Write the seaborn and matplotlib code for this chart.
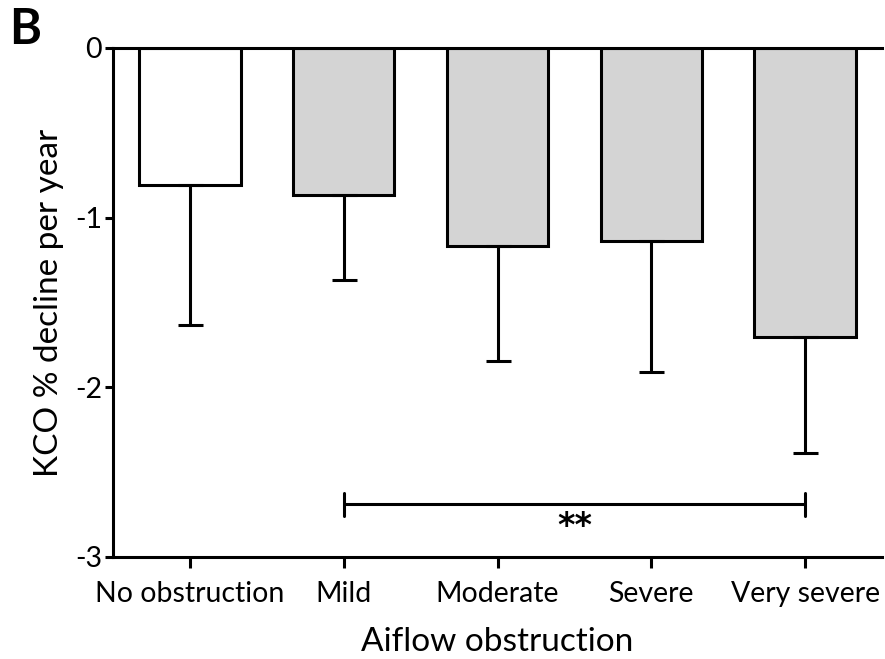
import matplotlib
matplotlib.use("Agg")
import matplotlib.pyplot as plt
import seaborn as sns
import pandas as pd

categories = ["No obstruction", "Mild", "Moderate", "Severe", "Very severe"]
means = [-0.81, -0.865, -1.165, -1.14, -1.706]
lower_ends = [-1.635, -1.365, -1.847, -1.91, -2.39]
bar_colors = ["#ffffff", "#d4d4d4", "#d4d4d4", "#d4d4d4", "#d4d4d4"]
y_ticks = [0, -1, -2, -3]
bracket_y = -2.69
bracket_from, bracket_to = "Mild", "Very severe"
sig_text = "**"

sns.set_theme(style="white")
plt.rcParams["font.family"] = ["Lato", "DejaVu Sans"]
plt.rcParams["text.color"] = "black"

df = pd.DataFrame({"cat": categories, "val": means})

fig = plt.figure(figsize=(8.85, 6.59), dpi=100)
ax = fig.add_axes([0.1277, 0.1548, 0.8689, 0.7724])

sns.barplot(data=df, x="cat", y="val", hue="cat", palette=bar_colors,
            order=categories, hue_order=categories, legend=False,
            edgecolor="black", linewidth=2.2, width=0.66, errorbar=None, ax=ax)

xs = list(range(len(categories)))
lower_err = [m - lo for m, lo in zip(means, lower_ends)]
ax.errorbar(xs, means, yerr=[lower_err, [0] * len(means)], fmt="none",
            ecolor="black", elinewidth=2.2, capsize=9, capthick=2.2, zorder=1)

x0 = categories.index(bracket_from)
x1 = categories.index(bracket_to)
ax.plot([x0, x1], [bracket_y, bracket_y], color="black", lw=2.2)
for xv in (x0, x1):
    ax.plot([xv, xv], [bracket_y - 0.07, bracket_y + 0.07], color="black", lw=2.2)
ax.text((x0 + x1) / 2, bracket_y - 0.13, sig_text, ha="center", va="center",
        fontsize=24, fontweight="bold", family="DejaVu Sans", color="black")

ax.set_xlim(-0.5, len(categories) - 0.5)
ax.set_ylim(-3, 0)
ax.set_yticks(y_ticks)
ax.set_yticklabels([str(t) for t in y_ticks])

for side in ["left", "bottom", "top"]:
    ax.spines[side].set_visible(True)
    ax.spines[side].set_color("black")
    ax.spines[side].set_linewidth(2.2)
ax.spines["right"].set_visible(False)

ax.tick_params(axis="both", which="major", direction="out", length=8,
               width=2.2, color="black", labelsize=20.5, labelcolor="black",
               bottom=True, left=True, top=False, right=False, pad=9)
ax.tick_params(axis="y", length=6, pad=2)

ax.set_xlabel("Aiflow obstruction", fontsize=24, color="black", labelpad=15)
ax.set_ylabel("KCO % decline per year", fontsize=24, color="black", labelpad=8)
ax.grid(False)

fig.text(0.010, 0.99, "B", fontsize=35, fontweight="bold", ha="left", va="top",
         color="black")

fig.savefig("out.png", dpi=100)
